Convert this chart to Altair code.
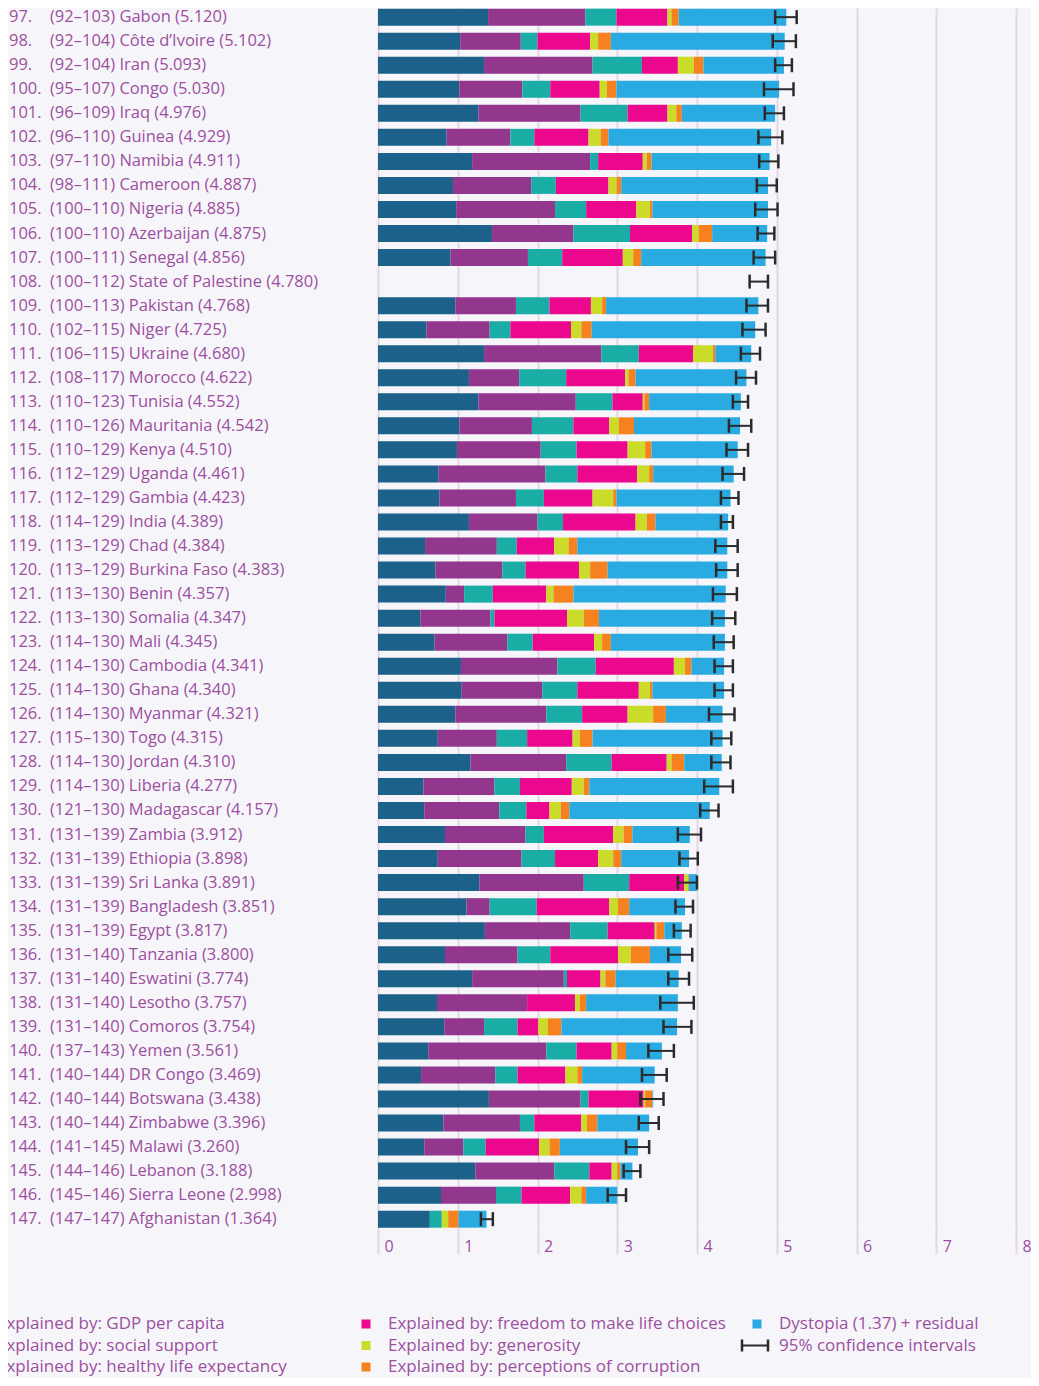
import altair as alt
import pandas as pd

ranks = list(range(97, 148))
countries = ["Gabon", "Côte d’Ivoire", "Iran", "Congo", "Iraq", "Guinea", "Namibia", "Cameroon",
             "Nigeria", "Azerbaijan", "Senegal", "State of Palestine", "Pakistan", "Niger", "Ukraine",
             "Morocco", "Tunisia", "Mauritania", "Kenya", "Uganda", "Gambia", "India", "Chad",
             "Burkina Faso", "Benin", "Somalia", "Mali", "Cambodia", "Ghana", "Myanmar", "Togo",
             "Jordan", "Liberia", "Madagascar", "Zambia", "Ethiopia", "Sri Lanka", "Bangladesh",
             "Egypt", "Tanzania", "Eswatini", "Lesotho", "Comoros", "Yemen", "DR Congo", "Botswana",
             "Zimbabwe", "Malawi", "Lebanon", "Sierra Leone", "Afghanistan"]
rank_lo = [92, 92, 92, 95, 96, 96, 97, 98, 100, 100, 100, 100, 100, 102, 106, 108, 110, 110, 110, 112,
           112, 114, 113, 113, 113, 113, 114, 114, 114, 114, 115, 114, 114, 121, 131, 131, 131, 131,
           131, 131, 131, 131, 131, 137, 140, 140, 140, 141, 144, 145, 147]
rank_hi = [103, 104, 104, 107, 109, 110, 110, 111, 110, 110, 111, 112, 113, 115, 115, 117, 123, 126,
           129, 129, 129, 129, 129, 129, 130, 130, 130, 130, 130, 130, 130, 130, 130, 130, 139, 139,
           139, 139, 139, 140, 140, 140, 140, 143, 144, 144, 144, 145, 146, 146, 147]
scores = [5.120, 5.102, 5.093, 5.030, 4.976, 4.929, 4.911, 4.887, 4.885, 4.875, 4.856, 4.780, 4.768,
          4.725, 4.680, 4.622, 4.552, 4.542, 4.510, 4.461, 4.423, 4.389, 4.384, 4.383, 4.357, 4.347,
          4.345, 4.341, 4.340, 4.321, 4.315, 4.310, 4.277, 4.157, 3.912, 3.898, 3.891, 3.851, 3.817,
          3.800, 3.774, 3.757, 3.754, 3.561, 3.469, 3.438, 3.396, 3.260, 3.188, 2.998, 1.364]

gdp = [1.38, 1.03, 1.33, 1.02, 1.26, 0.86, 1.18, 0.94, 0.98, 1.43, 0.91, None, 0.97, 0.61, 1.33, 1.14,
       1.26, 1.02, 0.99, 0.76, 0.77, 1.14, 0.59, 0.72, 0.85, 0.53, 0.71, 1.04, 1.05, 0.97, 0.75, 1.16,
       0.57, 0.58, 0.84, 0.75, 1.27, 1.11, 1.34, 0.84, 1.18, 0.74, 0.83, 0.63, 0.54, 1.39, 0.82, 0.58,
       1.22, 0.79, 0.65]
social = [1.22, 0.76, 1.36, 0.79, 1.28, 0.80, 1.48, 0.98, 1.24, 1.02, 0.97, None, 0.76, 0.79, 1.47, 0.63,
          1.22, 0.91, 1.05, 1.34, 0.96, 0.86, 0.90, 0.84, 0.23, 0.88, 0.91, 1.21, 1.01, 1.14, 0.74, 1.20,
          0.89, 0.94, 1.01, 1.05, 1.31, 0.29, 1.07, 0.91, 1.15, 1.13, 0.50, 1.48, 0.93, 1.15, 0.96, 0.49,
          0.99, 0.69, 0.00]
health = [0.39, 0.21, 0.62, 0.35, 0.59, 0.30, 0.10, 0.31, 0.39, 0.71, 0.43, None, 0.42, 0.26, 0.47, 0.59,
          0.46, 0.52, 0.45, 0.40, 0.35, 0.32, 0.25, 0.29, 0.36, 0.05, 0.32, 0.48, 0.44, 0.45, 0.38, 0.57,
          0.32, 0.34, 0.23, 0.42, 0.57, 0.59, 0.47, 0.41, 0.04, 0.00, 0.42, 0.38, 0.28, 0.10, 0.18, 0.28,
          0.44, 0.32, 0.15]
freedom = [0.64, 0.66, 0.45, 0.62, 0.50, 0.68, 0.56, 0.66, 0.63, 0.78, 0.76, None, 0.52, 0.76, 0.68, 0.74,
           0.38, 0.45, 0.64, 0.75, 0.61, 0.91, 0.47, 0.67, 0.67, 0.91, 0.77, 0.98, 0.77, 0.57, 0.57, 0.69,
           0.65, 0.29, 0.87, 0.54, 0.69, 0.91, 0.59, 0.85, 0.42, 0.60, 0.26, 0.44, 0.60, 0.69, 0.59, 0.67,
           0.28, 0.61, 0.00]
generosity = [0.05, 0.10, 0.20, 0.09, 0.11, 0.15, 0.05, 0.10, 0.17, 0.08, 0.13, None, 0.14, 0.13, 0.25,
              0.04, 0.02, 0.12, 0.22, 0.15, 0.26, 0.14, 0.18, 0.14, 0.09, 0.21, 0.10, 0.14, 0.14, 0.32,
              0.09, 0.06, 0.15, 0.14, 0.13, 0.19, 0.05, 0.11, 0.02, 0.16, 0.06, 0.06, 0.12, 0.07, 0.15,
              0.02, 0.07, 0.13, 0.07, 0.14, 0.08]
corruption = [0.09, 0.16, 0.12, 0.12, 0.07, 0.10, 0.06, 0.06, 0.03, 0.17, 0.10, None, 0.05, 0.13, 0.03,
              0.09, 0.06, 0.19, 0.08, 0.05, 0.04, 0.11, 0.11, 0.22, 0.25, 0.19, 0.11, 0.08, 0.03, 0.16,
              0.16, 0.16, 0.07, 0.11, 0.11, 0.10, 0.01, 0.14, 0.10, 0.24, 0.13, 0.08, 0.17, 0.11, 0.06,
              0.09, 0.13, 0.13, 0.04, 0.06, 0.13]
dystopia = [1.35, 2.18, 1.01, 2.04, 1.17, 2.04, 1.48, 1.84, 1.45, 0.69, 1.56, None, 1.91, 2.05, 0.45, 1.39,
            1.15, 1.33, 1.08, 1.01, 1.43, 0.91, 1.88, 1.50, 1.91, 1.58, 1.43, 0.41, 0.90, 0.71, 1.63, 0.47,
            1.63, 1.76, 0.72, 0.85, 0.10, 0.70, 0.22, 0.39, 0.79, 1.15, 1.45, 0.45, 0.91, 0.01, 0.65, 0.98,
            0.15, 0.39, 0.35]
ci_lo = [4.98, 4.95, 4.98, 4.84, 4.85, 4.77, 4.78, 4.75, 4.73, 4.76, 4.71, 4.66, 4.62, 4.57, 4.55, 4.49,
         4.45, 4.40, 4.37, 4.32, 4.30, 4.30, 4.23, 4.24, 4.20, 4.19, 4.21, 4.22, 4.22, 4.15, 4.18, 4.18,
         4.09, 4.04, 3.76, 3.78, 3.76, 3.73, 3.71, 3.64, 3.64, 3.54, 3.58, 3.39, 3.31, 3.29, 3.27, 3.11,
         3.08, 2.88, 1.29]
ci_hi = [5.25, 5.24, 5.19, 5.21, 5.09, 5.07, 5.02, 5.00, 5.01, 4.97, 4.98, 4.89, 4.89, 4.86, 4.79, 4.74,
         4.64, 4.68, 4.64, 4.59, 4.52, 4.45, 4.51, 4.51, 4.50, 4.48, 4.46, 4.45, 4.45, 4.47, 4.43, 4.42,
         4.45, 4.27, 4.05, 4.01, 4.00, 3.95, 3.92, 3.94, 3.90, 3.96, 3.93, 3.71, 3.62, 3.58, 3.52, 3.40,
         3.29, 3.11, 1.44]

components = ["Explained by: GDP per capita", "Explained by: social support",
              "Explained by: healthy life expectancy", "Explained by: freedom to make life choices",
              "Explained by: generosity", "Explained by: perceptions of corruption",
              "Dystopia (1.37) + residual"]
colors = ["#1b6189", "#92368e", "#19ada5", "#ec078f", "#cbdb2a", "#f5821f", "#29abe2"]
ci_label = "95% confidence intervals"

# legend grid placement (column, row) for each component
legend_col = [0, 0, 0, 1, 1, 1, 2]
legend_row = [0, 1, 2, 0, 1, 2, 0]

PURPLE = "#9d4f9f"
FONT = "Open Sans"
GRID = "#e4d6e7"

series = [gdp, social, health, freedom, generosity, corruption, dystopia]
rows = []
for i, r in enumerate(ranks):
    for k, comp in enumerate(components):
        v = series[k][i]
        if v is None:
            continue
        rows.append({"rank": r, "comp": comp, "order": k, "value": v})
bars_df = pd.DataFrame(rows)

info_df = pd.DataFrame({
    "rank": ranks,
    "rank_txt": [f"{r}." for r in ranks],
    "label": [f"({a}–{b}) {c} ({s:.3f})" for a, b, c, s in zip(rank_lo, rank_hi, countries, scores)],
    "lo": ci_lo,
    "hi": ci_hi,
})

leg_df = pd.DataFrame({"col": legend_col, "row": legend_row, "comp": components})
leg_txt_df = pd.DataFrame({"col": legend_col + [2], "row": legend_row + [1], "label": components + [ci_label]})
leg_ci_df = pd.DataFrame({"col": [2], "row": [1]})

x_scale = alt.Scale(domain=[0, 8], nice=False, zero=True, padding=0)
y_scale = alt.Scale(domain=[96.62, 147.45], reverse=True, nice=False, zero=False, padding=0)
color_scale = alt.Scale(domain=components, range=colors)

x_axis = alt.Axis(values=list(range(0, 9)), grid=True, gridColor=GRID, gridWidth=2, domain=False,
                  ticks=True, tickSize=24, tickWidth=2, tickColor=GRID, labelColor=PURPLE,
                  labelFontSize=16, labelFont=FONT, labelAlign="left", labelBaseline="middle",
                  labelPadding=-8, labelOffset=6, labelFlush=False, title=None, format="d")

bars = alt.Chart(bars_df).transform_stack(
    stack="value", groupby=["rank"], as_=["x0", "x1"], sort=[alt.SortField("order", order="ascending")]
).mark_bar(size=17, orient="horizontal").encode(
    x=alt.X("x0:Q", scale=x_scale, axis=x_axis),
    x2="x1:Q",
    y=alt.Y("rank:Q", scale=y_scale, axis=None),
    color=alt.Color("comp:N", scale=color_scale, legend=None),
)

ci_line = alt.Chart(info_df).mark_rule(strokeWidth=2, color="#2b2b2b").encode(
    x=alt.X("lo:Q", scale=x_scale), x2="hi:Q", y=alt.Y("rank:Q", scale=y_scale))
cap_lo = alt.Chart(info_df).mark_rule(strokeWidth=2.5, color="#2b2b2b", yOffset=-7, y2Offset=7).encode(
    x=alt.X("lo:Q", scale=x_scale), y=alt.Y("rank:Q", scale=y_scale), y2="rank:Q")
cap_hi = alt.Chart(info_df).mark_rule(strokeWidth=2.5, color="#2b2b2b", yOffset=-7, y2Offset=7).encode(
    x=alt.X("hi:Q", scale=x_scale), y=alt.Y("rank:Q", scale=y_scale), y2="rank:Q")

rank_text = alt.Chart(info_df).mark_text(align="left", baseline="middle", font=FONT, fontSize=16.5,
                                          color=PURPLE).encode(
    x=alt.value(-369), y=alt.Y("rank:Q", scale=y_scale), text="rank_txt:N")
label_text = alt.Chart(info_df).mark_text(align="left", baseline="middle", font=FONT, fontSize=16.5,
                                           color=PURPLE).encode(
    x=alt.value(-328), y=alt.Y("rank:Q", scale=y_scale), text="label:N")

main = alt.layer(bars, ci_line, cap_lo, cap_hi, rank_text, label_text)

lx = alt.Scale(domain=[0, 2], range=[-403, 379], nice=False, zero=False, padding=0)
ly = alt.Scale(domain=[0, 2], range=[1316, 1359], nice=False, zero=False, padding=0)

leg_sq = alt.Chart(leg_df).mark_square(size=81, opacity=1).encode(
    x=alt.X("col:Q", scale=lx, axis=None), y=alt.Y("row:Q", scale=ly, axis=None),
    color=alt.Color("comp:N", scale=color_scale, legend=None))
leg_txt = alt.Chart(leg_txt_df).mark_text(align="left", baseline="middle", dx=22, font=FONT, fontSize=17,
                                          color=PURPLE).encode(
    x=alt.X("col:Q", scale=lx, axis=None), y=alt.Y("row:Q", scale=ly, axis=None), text="label:N")
leg_ci = alt.Chart(leg_ci_df).mark_rule(strokeWidth=2, color="#2b2b2b", xOffset=-15, x2Offset=11).encode(
    x=alt.X("col:Q", scale=lx, axis=None), x2="col:Q", y=alt.Y("row:Q", scale=ly, axis=None))
leg_ci_l = alt.Chart(leg_ci_df).mark_rule(strokeWidth=2.5, color="#2b2b2b", xOffset=-15, yOffset=-6,
                                          y2Offset=6).encode(
    x=alt.X("col:Q", scale=lx, axis=None), y=alt.Y("row:Q", scale=ly, axis=None), y2="row:Q")
leg_ci_r = alt.Chart(leg_ci_df).mark_rule(strokeWidth=2.5, color="#2b2b2b", xOffset=11, yOffset=-6,
                                          y2Offset=6).encode(
    x=alt.X("col:Q", scale=lx, axis=None), y=alt.Y("row:Q", scale=ly, axis=None), y2="row:Q")

legend = alt.layer(leg_sq, leg_txt, leg_ci, leg_ci_l, leg_ci_r)

chart = alt.layer(main, legend).resolve_scale(x="independent", y="independent").properties(
    width=638, height=1222,
    autosize=alt.AutoSizeParams(type="none"),
    padding={"left": 370, "top": 0, "right": 15, "bottom": 148},
).configure(background="#f6f6fa").configure_view(stroke=None)

chart.save("out.html", embed_options={"renderer": "svg", "actions": False})
